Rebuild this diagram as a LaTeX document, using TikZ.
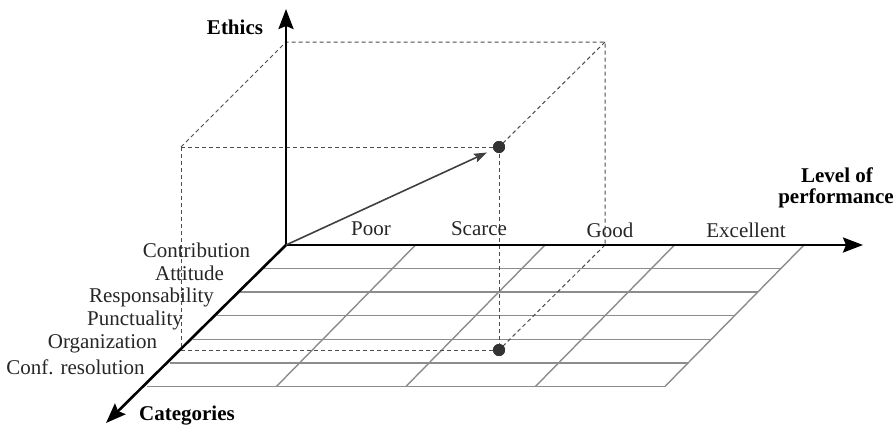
\documentclass[tikz,border=0pt]{standalone}
\usepackage{fontspec}
\setmainfont{Liberation Serif}
\usetikzlibrary{calc,arrows.meta}
\begin{document}
\begin{tikzpicture}[x=1pt,y=-1pt,
  gridline/.style={draw=black!45,line width=1.4pt},
  axis/.style={draw=black,line width=2.6pt,-{Stealth[length=20pt,width=15pt,inset=3pt]}},
  dashline/.style={draw=black!70,line width=1pt,dash pattern=on 4pt off 3pt},
  vec/.style={draw=black!75,line width=1.6pt,-{Stealth[length=13pt,width=9pt,inset=2pt]},shorten >=7pt},
  dot/.style={circle,fill=black!80,inner sep=0pt,minimum size=12pt},
  lbl/.style={font=\fontsize{21}{24}\selectfont,text=black!85,inner sep=0pt},
  blbl/.style={font=\fontsize{21}{24}\selectfont\bfseries,text=black,inner sep=0pt,align=center}
]
\useasboundingbox (0,0) rectangle (896,426);
% grid corners
\coordinate (O) at (286,245);
\coordinate (TR) at (804,245);
\coordinate (BL) at (147,386.4);
\coordinate (BR) at (665,386.4);
% grid
\foreach \k in {1,...,6}{
  \draw[gridline] ($(O)!\k/6!(BL)$) -- ($(TR)!\k/6!(BR)$);
}
\foreach \j in {1,...,4}{
  \draw[gridline] ($(O)!\j/4!(TR)$) -- ($(BL)!\j/4!(BR)$);
}
% dashed box
\node[dot] (P) at (499,147) {};
\node[dot] (Q) at (499,350) {};
\coordinate (A) at (181,147);
\coordinate (B) at (286,42);
\coordinate (C) at (605,42);
\coordinate (D) at (605,245);
\coordinate (E) at (181,350);
\draw[dashline] (A) -- (P.center);
\draw[dashline] (A) -- (B) -- (C) -- (D);
\draw[dashline] (C) -- (P.center);
\draw[dashline] (P.center) -- (Q.center);
\draw[dashline] (D) -- (Q.center);
\draw[dashline] (A) -- (E) -- (Q.center);
\node[dot] at (P) {};
\node[dot] at (Q) {};
% axes
\coordinate (Ytip) at (286,9);
\coordinate (Xtip) at (863,245);
\coordinate (Ztip) at (106,423);
\draw[axis] (O) -- (Ytip);
\draw[axis] (O) -- (Xtip);
\draw[axis] (O) -- (Ztip);
% vector
\draw[vec] (O) -- (P);
% axis labels
\node[blbl] (ethics) at (235,27) {Ethics};
\node[blbl] (cat) at (187,416) {Categories};
\node[blbl] (lvl1) at (837,175) {Level of};
\node[blbl] (lvl2) at (836,198) {performance};
% level labels
\node[lbl] (poor) at (371,229) {Poor};
\node[lbl] (scarce) at (479,229) {Scarce};
\node[lbl] (good) at (610,230) {Good};
\node[lbl] (exc) at (746,230) {Excellent};
% category labels
\node[lbl] (c1) at (196.5,250) {Contribution};
\node[lbl] (c2) at (189.5,273.5) {Attitude};
\node[lbl] (c3) at (151.5,297) {Responsability};
\node[lbl] (c4) at (135,320.5) {Punctuality};
\node[lbl] (c5) at (102.5,344) {Organization};
\node[lbl] (c6) at (75.5,367.5) {Conf. resolution};
\end{tikzpicture}
\end{document}
